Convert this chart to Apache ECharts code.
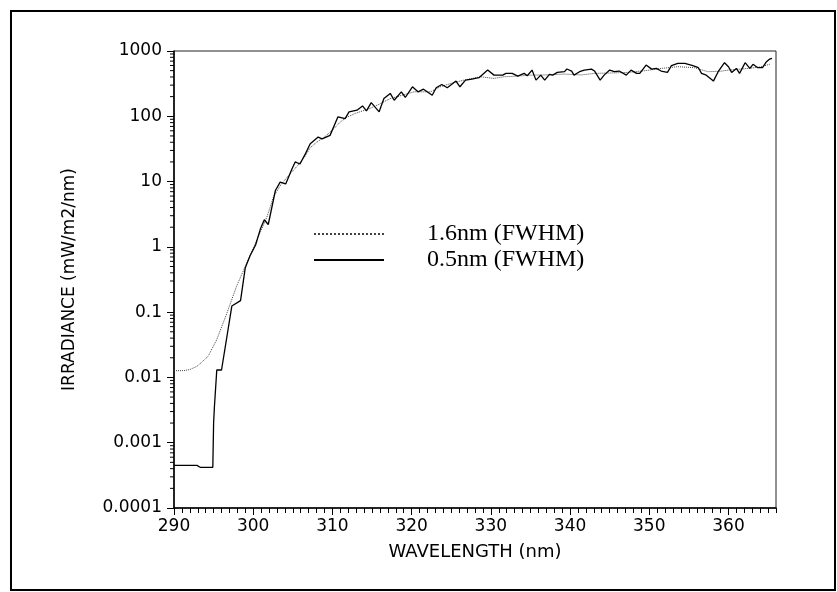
<!DOCTYPE html>
<html>
<head>
<meta charset="utf-8">
<script src="https://cdn.jsdelivr.net/npm/echarts@6/dist/echarts.min.js"></script>
<style>
html, body { margin: 0; padding: 0; background: #fff; }
#main { width: 837px; height: 592px; }
</style>
</head>
<body>
<div id="main"></div>
<script>
// 0.5nm (FWHM) spectrum - solid line
var wl05 = [290, 292.9, 293.3, 294.9, 295.0, 295.1, 295.4, 296.0, 297.3, 298.4, 299.0, 299.6, 300.3, 300.9,
  301.4, 301.9, 302.8, 303.4, 304.1, 304.9, 305.3, 305.9, 306.6, 307.2, 308.2, 308.7, 309.7, 310.7,
  311.6, 312.1, 313.1, 313.8, 314.3, 314.9, 315.9, 316.5, 317.3, 317.8, 318.7, 319.2, 320.1, 320.8,
  321.5, 322.6, 323.1, 323.8, 324.5, 325.6, 326.1, 326.8, 327.6, 328.5, 329.6, 330.4, 331.5, 331.9,
  332.7, 333.4, 334.2, 334.6, 335.2, 335.7, 336.3, 336.8, 337.4, 337.8, 338.4, 339.3, 339.6, 340.2,
  340.5, 341.2, 341.8, 342.7, 343.1, 343.8, 344.3, 345.0, 345.6, 346.2, 347.1, 347.7, 348.4, 348.8,
  349.6, 350.3, 350.9, 351.5, 352.3, 352.8, 353.6, 354.5, 355.5, 356.2, 356.6, 357.2, 358.1, 358.7,
  359.5, 360.0, 360.4, 361.0, 361.4, 362.1, 362.7, 363.1, 363.7, 364.3, 364.8, 365.2, 365.5];
var irr05 = [0.00045, 0.00045, 0.00042, 0.00042, 0.002, 0.0035, 0.013, 0.013, 0.124, 0.15, 0.48, 0.73, 1.07, 1.87,
  2.6, 2.2, 7.3, 9.8, 9.2, 15.7, 20, 18.6, 26.8, 38, 48, 45, 51, 98,
  92, 117, 124, 144, 121, 162, 117, 187, 224, 176, 237, 194, 283, 237,
  260, 210, 274, 307, 274, 346, 283, 358, 371, 390, 510, 427, 427, 454,
  454, 413, 454, 418, 510, 358, 427, 358, 439, 427, 470, 482, 530, 493,
  427, 482, 510, 528, 493, 358, 427, 510, 482, 493, 427, 510, 454, 454,
  609, 528, 541, 493, 470, 596, 646, 646, 596, 555, 454, 427, 346, 482,
  662, 575, 470, 541, 454, 662, 541, 625, 555, 555, 687, 753, 770];

// 1.6nm (FWHM) spectrum - dotted line
var wl16 = [290, 291.2, 292.0, 292.9, 293.7, 294.3, 295.4, 296.7, 297.9, 299.2, 300.5, 301.7, 302.6, 303.5,
  304.5, 305.5, 306.5, 307.2, 308.0, 309.0, 310.2, 311.0, 311.9, 313.0, 314.7, 316.0, 317.3, 318.8,
  320.3, 322.4, 323.6, 325.0, 326.6, 328.7, 330.4, 331.6, 333.0, 335.0, 337.0, 339.3, 341.4, 343.1,
  345.0, 347.3, 349.5, 351.5, 353.6, 355.7, 357.4, 359.0, 360.0, 362.5, 364.0, 365.2];
var irr16 = [0.0127, 0.0127, 0.0132, 0.0148, 0.018, 0.021, 0.038, 0.098, 0.25, 0.57, 1.31, 2.8, 6.0, 9.0,
  12.5, 17, 24, 33, 40, 48, 65, 82, 98, 112, 131, 155, 187, 210,
  237, 237, 283, 320, 358, 403, 380, 403, 410, 427, 430, 443, 430, 454,
  460, 470, 500, 541, 575, 555, 482, 490, 510, 541, 570, 625];

var seriesNames = ['1.6nm (FWHM)', '0.5nm (FWHM)'];
var xMin = 290, xMax = 366;
var yMin = 0.0001, yMax = 1000;

// log minor tick values 2..9 in each decade
var yMinorTicks = [];
for (var e = -4; e < 3; e++) {
  for (var m = 2; m <= 9; m++) yMinorTicks.push(m * Math.pow(10, e));
}

function pairs(xs, ys) {
  return xs.map(function (x, i) { return [x, ys[i]]; });
}

var chartDom = document.getElementById('main');
var myChart = echarts.init(chartDom);
var option;

option = {
  backgroundColor: '#fff',
  animation: false,
  graphic: [{
    type: 'rect',
    shape: { x: 11, y: 11, width: 824, height: 579 },
    style: { fill: 'none', stroke: '#000', lineWidth: 2 },
    silent: true
  }],
  grid: {
    left: 174, right: 61, top: 51, bottom: 84,
    show: true, borderColor: '#222', borderWidth: 1
  },
  legend: {
    orient: 'vertical',
    left: 308, top: 217,
    itemWidth: 70, itemHeight: 12, itemGap: 2,
    data: seriesNames,
    itemStyle: { opacity: 0 },
    textStyle: {
      fontFamily: '"Liberation Serif", "Times New Roman", serif',
      fontSize: 24, color: '#000', lineHeight: 20,
      padding: [0, 0, 0, 38]
    }
  },
  xAxis: [{
    type: 'value',
    min: xMin, max: xMax, interval: 10,
    name: 'WAVELENGTH (nm)',
    nameLocation: 'middle', nameGap: 35,
    nameTextStyle: { fontFamily: '"DejaVu Sans", sans-serif', fontSize: 18, color: '#000' },
    axisLine: { lineStyle: { color: '#000', width: 1.5 } },
    axisTick: { inside: false, length: 7, lineStyle: { color: '#000' } },
    axisLabel: {
      showMaxLabel: false, margin: 10,
      fontFamily: '"DejaVu Sans", sans-serif', fontSize: 17, color: '#000'
    },
    splitLine: { show: false }
  }, {
    // 1 nm minor ticks along the bottom
    type: 'value', position: 'bottom',
    min: xMin, max: xMax, interval: 1,
    axisLine: { show: false },
    axisTick: { length: 5, lineStyle: { color: '#000' } },
    axisLabel: { show: false },
    splitLine: { show: false }
  }],
  yAxis: {
    type: 'log', logBase: 10,
    min: yMin, max: yMax,
    name: 'IRRADIANCE (mW/m2/nm)',
    nameLocation: 'middle', nameGap: 96,
    nameTextStyle: { fontFamily: '"DejaVu Sans", sans-serif', fontSize: 17, color: '#000' },
    axisLine: { show: true, lineStyle: { color: '#000', width: 1.5 } },
    axisTick: { show: true, length: 7, lineStyle: { color: '#000' } },
    axisLabel: {
      margin: 12,
      fontFamily: '"DejaVu Sans", sans-serif', fontSize: 17, color: '#000',
      formatter: function (v) { return String(+Number(v).toPrecision(1)); }
    },
    splitLine: { show: false }
  },
  series: [{
    name: seriesNames[0],
    type: 'line',
    symbol: 'none',
    data: pairs(wl16, irr16),
    lineStyle: { color: '#444', width: 1, type: 'dotted' },
    itemStyle: { color: '#444' },
    z: 2
  }, {
    name: seriesNames[1],
    type: 'line',
    symbol: 'none',
    data: pairs(wl05, irr05),
    lineStyle: { color: '#000', width: 1.3 },
    itemStyle: { color: '#000' },
    z: 3
  }, {
    // log minor ticks on the left axis
    type: 'custom',
    silent: true,
    data: yMinorTicks.map(function (v) { return [xMin, v]; }),
    renderItem: function (params, api) {
      var p = api.coord([api.value(0), api.value(1)]);
      return {
        type: 'line',
        shape: { x1: p[0] - 4, y1: p[1], x2: p[0], y2: p[1] },
        style: { stroke: '#000', lineWidth: 1 }
      };
    },
    z: 4
  }]
};

option && myChart.setOption(option);
</script>
</body>
</html>
